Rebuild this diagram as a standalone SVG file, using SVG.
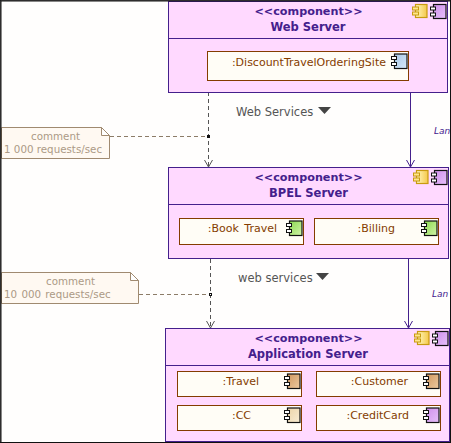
<svg xmlns="http://www.w3.org/2000/svg" width="451" height="443" viewBox="0 0 451 443">
<style>
text{font-family:"DejaVu Sans","Liberation Sans",sans-serif}
.box{fill:#ffd9ff;stroke:#44208c;stroke-width:1}
.t{font-size:11.5px;font-weight:bold;fill:#44208c;text-anchor:middle}
.s{font-size:11.2px}
.part{fill:#fffdf6;stroke:#843c00;stroke-width:1}
.pt{font-size:11px;fill:#843c00;text-anchor:end}
.note{fill:#fff9f2;stroke:#a08a70;stroke-width:1}
.nt{font-size:10.3px;fill:#ac9a86}
.dash{fill:none;stroke:#555;stroke-width:1;stroke-dasharray:4 3}
.ndash{fill:none;stroke:#8c7c68;stroke-width:1;stroke-dasharray:4 3}
.solid{fill:none;stroke:#44208c;stroke-width:1}
.lbl{font-size:11.5px;fill:#555}
.lan{font-size:9px;font-style:italic;fill:#44208c}
.ci{stroke:#111;stroke-width:1.200}
.cw{fill:#fff;stroke:#111;stroke-width:1}
.yi{stroke:#c89a10;stroke-width:1.200}
.yw{fill:#ffe68c;stroke:#c89a10;stroke-width:1}
</style>
<defs>
<linearGradient id="gy" x1="0" x2="1" y1="0" y2="0"><stop offset="0" stop-color="#fff8c0"/><stop offset="1" stop-color="#f5c84a"/></linearGradient>
<linearGradient id="gp" x1="0" x2="1" y1="0" y2="1"><stop offset="0" stop-color="#d090ec"/><stop offset="1" stop-color="#e6c0fa"/></linearGradient>
<linearGradient id="gb" x1="0" x2="1" y1="0" y2="1"><stop offset="0" stop-color="#a8c8e8"/><stop offset="1" stop-color="#d6e8f8"/></linearGradient>
<linearGradient id="gg" x1="0" x2="1" y1="0" y2="1"><stop offset="0" stop-color="#8cd850"/><stop offset="1" stop-color="#d0f4a8"/></linearGradient>
<linearGradient id="go" x1="0" x2="1" y1="0" y2="1"><stop offset="0" stop-color="#d09860"/><stop offset="1" stop-color="#eccaa0"/></linearGradient>
<linearGradient id="gt" x1="0" x2="1" y1="0" y2="1"><stop offset="0" stop-color="#ecd4a8"/><stop offset="1" stop-color="#f8ecd4"/></linearGradient>
<symbol id="yc" width="17" height="15" overflow="visible"><rect x="3.500" y="0.500" width="11.500" height="13" fill="url(#gy)" class="yi"/><rect x="0.500" y="3" width="6" height="3" class="yw"/><rect x="0.500" y="8" width="6" height="3" class="yw"/></symbol>
<symbol id="pc" width="17" height="16" overflow="visible"><rect x="3.500" y="0.500" width="12.500" height="14" fill="url(#gp)" class="ci"/><rect x="0.500" y="3" width="5" height="3" class="cw"/><rect x="0.500" y="9" width="5" height="3" class="cw"/></symbol>
<symbol id="ic" width="17" height="16" overflow="visible"><rect x="3.500" y="0.500" width="12.500" height="14.500" class="ci"/><rect x="0.500" y="3" width="5" height="3" class="cw"/><rect x="0.500" y="9" width="5" height="3" class="cw"/></symbol>
</defs>
<rect width="451" height="443" fill="#fffefd"/>
<g id="connectors">
<path class="dash" d="M208.500 92V166"/>
<path d="M204.500 160L208.500 167L212.500 160" fill="none" stroke="#555"/>
<path class="ndash" d="M110 136.500H208"/>
<rect x="207" y="135" width="3" height="3" fill="#111"/>
<path class="solid" d="M410.500 92V166"/>
<path d="M406.500 160L410.500 167L414.500 160" class="solid"/>
<path class="dash" d="M210.500 259V327"/>
<path d="M206.500 321L210.500 328L214.500 321" fill="none" stroke="#555"/>
<path class="ndash" d="M139 294.500H210"/>
<rect x="209" y="293" width="3" height="3" fill="#111"/>
<rect x="210" y="294" width="1" height="1" fill="#fff"/>
<path class="solid" d="M408.500 259V327"/>
<path d="M404.500 321L408.500 328L412.500 321" class="solid"/>
<text class="lbl" x="236" y="116">Web Services</text>
<path d="M318 107H331L324.500 114Z" fill="#444"/>
<text class="lbl" x="238" y="282">web services</text>
<path d="M316 273H329L322.500 280Z" fill="#444"/>
<text class="lan" x="434" y="134">Lan</text>
<text class="lan" x="432" y="297">Lan</text>
</g>
<g id="web-server">
<rect class="box" x="168.500" y="1.500" width="279" height="91"/>
<path class="solid" d="M168.500 38.500H447.500"/>
<text class="t s" x="308.500" y="15">&lt;&lt;component&gt;&gt;</text>
<text class="t" x="308" y="31">Web Server</text>
<use href="#yc" x="412" y="4"/><use href="#pc" x="430" y="4"/>
<g id="discount"><rect class="part" x="207.500" y="51.500" width="201" height="29"/>
<text class="pt" x="386" y="66">:DiscountTravelOrderingSite</text>
<use href="#ic" x="391" y="53.500" fill="url(#gb)"/></g>
</g>
<g id="bpel-server">
<rect class="box" x="168.500" y="167.500" width="280" height="91"/>
<path class="solid" d="M168.500 204.500H448.500"/>
<text class="t s" x="308.500" y="181">&lt;&lt;component&gt;&gt;</text>
<text class="t" x="308.500" y="197">BPEL Server</text>
<use href="#yc" x="413" y="170"/><use href="#pc" x="431" y="170"/>
<g id="book-travel"><rect class="part" x="179.500" y="218.500" width="124" height="26"/>
<text class="pt" x="277" y="232" word-spacing="2">:Book Travel</text>
<use href="#ic" x="286" y="220.500" fill="url(#gg)"/></g>
<g id="billing"><rect class="part" x="314.500" y="218.500" width="124" height="26"/>
<text class="pt" x="395" y="232">:Billing</text>
<use href="#ic" x="421" y="220.500" fill="url(#gg)"/></g>
</g>
<g id="application-server">
<rect class="box" x="165.500" y="328.500" width="284" height="113"/>
<path class="solid" d="M165.500 365.500H449.500"/>
<text class="t s" x="308.500" y="342">&lt;&lt;component&gt;&gt;</text>
<text class="t" x="308" y="358">Application Server</text>
<use href="#yc" x="414" y="331"/><use href="#pc" x="432" y="331"/>
<g id="travel"><rect class="part" x="177.500" y="371.500" width="124" height="25"/>
<text class="pt" x="259" y="385">:Travel</text>
<use href="#ic" x="284" y="373.500" fill="url(#go)"/></g>
<g id="customer"><rect class="part" x="316.500" y="371.500" width="124" height="25"/>
<text class="pt" x="408" y="385">:Customer</text>
<use href="#ic" x="423" y="373.500" fill="url(#go)"/></g>
<g id="cc"><rect class="part" x="177.500" y="405.500" width="124" height="25"/>
<text class="pt" x="251" y="419">:CC</text>
<use href="#ic" x="284" y="407.500" fill="url(#gt)"/></g>
<g id="creditcard"><rect class="part" x="316.500" y="405.500" width="124" height="25"/>
<text class="pt" x="409" y="419">:CreditCard</text>
<use href="#ic" x="423" y="407.500" fill="url(#gp)"/></g>
</g>
<g id="note-1">
<path class="note" d="M1.500 127.500H101.500L109.500 135.500V158.500H1.500Z"/>
<path d="M101.500 127.500V135.500H109.500Z" fill="#fff" stroke="#a08a70"/>
<text class="nt" x="55.500" y="140" text-anchor="middle">comment</text>
<text class="nt" x="4" y="153">1 000 requests/sec</text>
</g>
<g id="note-2">
<path class="note" d="M1.500 272.500H130.500L138.500 280.500V303.500H1.500Z"/>
<path d="M130.500 272.500V280.500H138.500Z" fill="#fff" stroke="#a08a70"/>
<text class="nt" x="70.500" y="285" text-anchor="middle">comment</text>
<text class="nt" x="4" y="298" word-spacing="1">10 000 requests/sec</text>
</g>
<path id="frame" d="M1 443V1H451M450.500 0V443M0 442.500H451" fill="none" stroke="#111" stroke-width="1"/>
<path d="M0 443V0H451" fill="none" stroke="#111" stroke-width="1.500"/>
</svg>
